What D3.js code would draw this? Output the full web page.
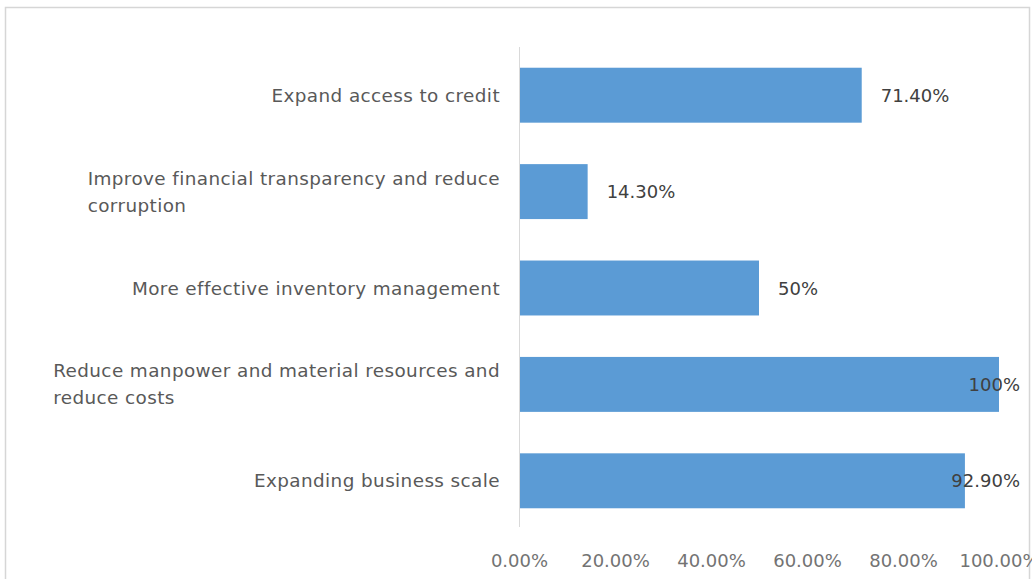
<!DOCTYPE html>
<html>
<head>
<meta charset="utf-8">
<script src="https://cdn.jsdelivr.net/npm/d3@7"></script>
<style>
  html, body { margin: 0; padding: 0; background: #ffffff; }
  svg { display: block; }
  text { font-family: "DejaVu Sans", sans-serif; }
</style>
</head>
<body>
<svg id="chart" width="1032" height="579"></svg>
<script>
// Survey results: benefits expected, share of respondents (%)
const categories = [
  "Expand access to credit",
  "Improve financial transparency and reduce corruption",
  "More effective inventory management",
  "Reduce manpower and material resources and reduce costs",
  "Expanding business scale"
];
const values = [71.4, 14.3, 50, 100, 92.9];
const valueLabels = ["71.40%", "14.30%", "50%", "100%", "92.90%"];
const tickValues = [0, 20, 40, 60, 80, 100];
const tickLabels = ["0.00%", "20.00%", "40.00%", "60.00%", "80.00%", "100.00%"];

const svg = d3.select("#chart");

// Chart frame (bottom edge runs past the page)
svg.append("rect")
  .attr("x", 5.5).attr("y", 7.5)
  .attr("width", 1024).attr("height", 620)
  .attr("fill", "#ffffff")
  .attr("stroke", "#d6d6d6")
  .attr("stroke-width", 1.5);

const x = d3.scaleLinear().domain([0, 100]).range([519, 999]);
const y = d3.scaleBand().domain(categories).range([47, 529])
  .paddingInner(0.43).paddingOuter(0.215);

// Bars
svg.append("g").selectAll("rect")
  .data(categories)
  .join("rect")
  .attr("x", x(0))
  .attr("y", d => y(d))
  .attr("width", (d, i) => x(values[i]) - x(0))
  .attr("height", y.bandwidth())
  .attr("fill", "#5b9bd5");

// Vertical category axis line
svg.append("line")
  .attr("x1", x(0) + 0.5).attr("x2", x(0) + 0.5)
  .attr("y1", 47).attr("y2", 527)
  .attr("stroke", "#d9d9d9").attr("stroke-width", 1);

// Value axis labels
const xAxis = d3.axisBottom(x)
  .tickValues(tickValues)
  .tickFormat((d, i) => tickLabels[i])
  .tickSize(0)
  .tickPadding(0);
const gx = svg.append("g").attr("transform", "translate(0,554)").call(xAxis);
gx.select(".domain").remove();
gx.selectAll("text")
  .attr("font-family", "DejaVu Sans, sans-serif")
  .attr("font-size", 18)
  .attr("fill", "#737373");

// Category labels, wrapped and left-aligned in a block ending at the axis
const labelRight = 500;
const maxLineWidth = 470;
const lineHeight = 27;
const catG = svg.append("g")
  .attr("font-size", 18.4)
  .attr("letter-spacing", 0.4)
  .attr("fill", "#595959");

categories.forEach(cat => {
  const t = catG.append("text").attr("x", 0).attr("y", 0);
  // word wrap
  const words = cat.split(" ");
  const lines = [];
  let cur = [];
  const probe = t.append("tspan");
  words.forEach(w => {
    const trial = cur.concat([w]).join(" ");
    probe.text(trial);
    if (probe.node().getComputedTextLength() > maxLineWidth && cur.length) {
      lines.push(cur.join(" "));
      cur = [w];
    } else {
      cur.push(w);
    }
  });
  lines.push(cur.join(" "));
  probe.remove();

  const spans = lines.map((ln, k) => t.append("tspan").text(ln));
  const widths = spans.map(s => s.node().getComputedTextLength());
  const blockW = d3.max(widths);
  const left = lines.length > 1 ? labelRight - blockW : null;
  const cy = y(cat) + y.bandwidth() / 2;
  const firstBaseline = cy - (lines.length - 1) * lineHeight / 2 + 6.5;
  spans.forEach((s, k) => {
    s.attr("x", left !== null ? left : labelRight)
     .attr("y", firstBaseline + k * lineHeight)
     .attr("text-anchor", left !== null ? "start" : "end");
  });
});

// Data labels, pulled inside the plot when they would overflow
const plotRight = 1020;
const valG = svg.append("g")
  .attr("font-size", 18)
  .attr("fill", "#404040");
categories.forEach((cat, i) => {
  const t = valG.append("text")
    .attr("y", y(cat) + y.bandwidth() / 2 + 6.5)
    .text(valueLabels[i]);
  const w = t.node().getComputedTextLength();
  const px = Math.min(x(values[i]) + 19, plotRight - w);
  t.attr("x", px);
});
</script>
</body>
</html>
